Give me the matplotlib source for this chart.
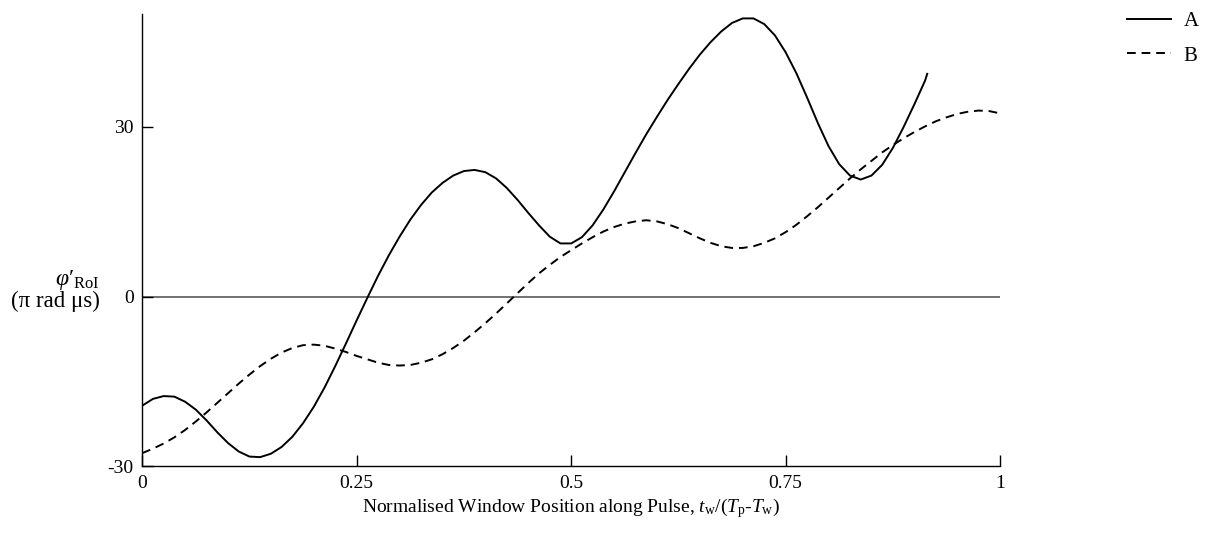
import numpy as np
import matplotlib
matplotlib.use("Agg")
from matplotlib import pyplot as plt

plt.rcParams['font.family'] = ['Liberation Serif', 'DejaVu Serif']
plt.rcParams['mathtext.fontset'] = 'custom'
plt.rcParams['mathtext.rm'] = 'Liberation Serif'
plt.rcParams['mathtext.it'] = 'Liberation Serif:italic'
plt.rcParams['axes.unicode_minus'] = False

# curve A (solid)
a_x = [0.0000, 0.0125, 0.0250, 0.0375, 0.0500, 0.0625, 0.0750, 0.0875, 0.1000, 0.1125,
       0.1250, 0.1375, 0.1500, 0.1625, 0.1750, 0.1875, 0.2000, 0.2125, 0.2250, 0.2375,
       0.2500, 0.2625, 0.2750, 0.2875, 0.3000, 0.3125, 0.3250, 0.3375, 0.3500, 0.3625,
       0.3750, 0.3875, 0.4000, 0.4125, 0.4250, 0.4375, 0.4500, 0.4625, 0.4750, 0.4875,
       0.5000, 0.5125, 0.5250, 0.5375, 0.5500, 0.5625, 0.5750, 0.5875, 0.6000, 0.6125,
       0.6250, 0.6375, 0.6500, 0.6625, 0.6750, 0.6875, 0.7000, 0.7125, 0.7250, 0.7375,
       0.7500, 0.7625, 0.7750, 0.7875, 0.8000, 0.8125, 0.8250, 0.8375, 0.8500, 0.8625,
       0.8750, 0.8875, 0.9000, 0.9125, 0.9150]
a_y = [-19.3, -18.1, -17.6, -17.7, -18.6, -20.0, -21.9, -24.0, -25.9, -27.4,
       -28.3, -28.4, -27.8, -26.6, -24.8, -22.4, -19.5, -16.1, -12.3, -8.3,
       -4.2, -0.2, 3.7, 7.3, 10.6, 13.6, 16.2, 18.4, 20.1, 21.4,
       22.2, 22.4, 22.0, 20.9, 19.2, 17.1, 14.8, 12.6, 10.6, 9.4,
       9.4, 10.5, 12.6, 15.4, 18.6, 22.0, 25.4, 28.7, 31.8, 34.8,
       37.6, 40.3, 42.8, 45.0, 46.9, 48.4, 49.2, 49.2, 48.2, 46.2,
       43.2, 39.5, 35.2, 30.7, 26.6, 23.4, 21.4, 20.7, 21.4, 23.3,
       26.3, 30.0, 34.0, 38.2, 39.4]

# curve B (dashed)
b_x = [0.0000, 0.0125, 0.0250, 0.0375, 0.0500, 0.0625, 0.0750, 0.0875, 0.1000, 0.1125,
       0.1250, 0.1375, 0.1500, 0.1625, 0.1750, 0.1875, 0.2000, 0.2125, 0.2250, 0.2375,
       0.2500, 0.2625, 0.2750, 0.2875, 0.3000, 0.3125, 0.3250, 0.3375, 0.3500, 0.3625,
       0.3750, 0.3875, 0.4000, 0.4125, 0.4250, 0.4375, 0.4500, 0.4625, 0.4750, 0.4875,
       0.5000, 0.5125, 0.5250, 0.5375, 0.5500, 0.5625, 0.5750, 0.5875, 0.6000, 0.6125,
       0.6250, 0.6375, 0.6500, 0.6625, 0.6750, 0.6875, 0.7000, 0.7125, 0.7250, 0.7375,
       0.7500, 0.7625, 0.7750, 0.7875, 0.8000, 0.8125, 0.8250, 0.8375, 0.8500, 0.8625,
       0.8750, 0.8875, 0.9000, 0.9125, 0.9250, 0.9375, 0.9500, 0.9625, 0.9750, 0.9875,
       1.0000]
b_y = [-27.7, -26.9, -26.0, -24.9, -23.6, -22.1, -20.5, -18.8, -17.1, -15.4,
       -13.8, -12.3, -11.0, -9.9, -9.1, -8.6, -8.5, -8.7, -9.2, -9.8,
       -10.5, -11.1, -11.7, -12.1, -12.2, -12.1, -11.7, -11.1, -10.2, -9.1,
       -7.8, -6.3, -4.7, -3.0, -1.2, 0.6, 2.4, 4.1, 5.6, 7.0,
       8.2, 9.4, 10.5, 11.5, 12.3, 12.9, 13.3, 13.5, 13.3, 12.8,
       12.1, 11.2, 10.3, 9.5, 8.9, 8.6, 8.6, 8.9, 9.5, 10.3,
       11.4, 12.7, 14.2, 15.8, 17.5, 19.2, 20.9, 22.5, 24.0, 25.5,
       26.8, 28.0, 29.1, 30.1, 31.0, 31.7, 32.3, 32.7, 32.9, 32.8,
       32.4]

x_ticks = [0, 0.25, 0.5, 0.75, 1]
x_tick_labels = ['0', '0.25', '0.5', '0.75', '1']
y_ticks = [-30, 0, 30]
y_tick_labels = ['-30', '0', '30']

fig = plt.figure(figsize=(12.05, 5.34), dpi=100)
ax = fig.add_axes([0.118, 0.127, 0.712, 0.847])

ax.axhline(0, color='#666666', lw=1.3, zorder=1)
ax.plot(a_x, a_y, color='black', lw=1.4, label='A')
ax.plot(b_x, b_y, color='black', lw=1.4, ls=(0, (4.5, 3)), label='B')

ax.set_xlim(0, 1)
ax.set_ylim(-30, 50)
ax.set_xticks(x_ticks)
ax.set_xticklabels(x_tick_labels)
ax.set_yticks(y_ticks)
ax.set_yticklabels(y_tick_labels)
ax.tick_params(direction='in', length=8, width=1, labelsize=14, pad=6)

for side in ['top', 'right']:
    ax.spines[side].set_visible(False)
for side in ['left', 'bottom']:
    ax.spines[side].set_linewidth(1.0)

ax.set_xlabel(r'Normalised Window Position along Pulse, $t_{\mathrm{w}}/(T_{\mathrm{p}}$-$T_{\mathrm{w}})$',
              fontsize=14, labelpad=3)

fig.text(0.083, 0.476, r"$φ\mathrm{′}_{\mathrm{RoI}}$", fontsize=17, ha='right', va='center')
fig.text(0.083, 0.435, '(π rad μs)', fontsize=16.5, ha='right', va='center')

fig.legend(loc='upper right', bbox_to_anchor=(1.0, 0.99), frameon=False,
           fontsize=15, handlelength=2.1, labelspacing=0.72, handletextpad=0.6,
           borderaxespad=0.0, borderpad=0.3)

fig.savefig('out.png', dpi=100)
